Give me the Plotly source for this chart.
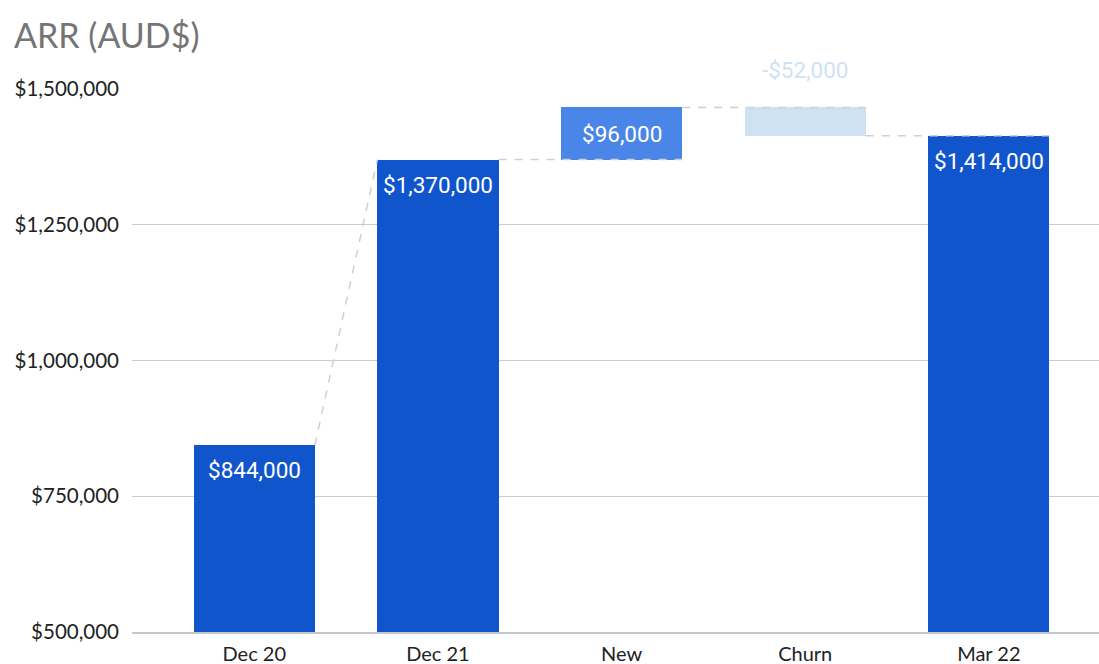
import plotly.graph_objects as go

categories = ["Dec 20", "Dec 21", "New", "Churn", "Mar 22"]
values = [844000, 1370000, 96000, -52000, 1414000]
measures = ["absolute", "absolute", "relative", "relative", "absolute"]
labels = ["$844,000", "$1,370,000", "$96,000", "-$52,000", "$1,414,000"]
colors = ["#1155cc", "#1155cc", "#4a86e8", "#cfe2f3", "#1155cc"]
label_colors = ["#ffffff", "#ffffff", "#ffffff", "#cfe2f3", "#ffffff"]
y_ticks = [500000, 750000, 1000000, 1250000, 1500000]

BAR_W = 0.66
AXIS_MIN = 500000

# compute bases/tops from data
bases, tops = [], []
running = 0
for v, m in zip(values, measures):
    if m == "absolute":
        base, top = AXIS_MIN, v
        running = v
    else:
        start = running
        running = running + v
        base, top = min(start, running), max(start, running)
    bases.append(base)
    tops.append(top)

xs = list(range(len(categories)))
fig = go.Figure()
fig.add_trace(go.Bar(
    x=xs, y=[t - b for t, b in zip(tops, bases)], base=bases,
    width=BAR_W, marker=dict(color=colors, line=dict(width=0)),
    hoverinfo="skip", showlegend=False,
))

# connectors
ends = []
running = 0
for v, m in zip(values, measures):
    running = v if m == "absolute" else running + v
    ends.append(running)
half = BAR_W / 2
seg_x, seg_y = [], []
for i in range(len(categories) - 1):
    if measures[i + 1] == "absolute" and ends[i] != values[i + 1] and i + 1 < len(categories) - 1:
        seg_x += [i + half, i + 1 - half, None]
        seg_y += [ends[i], values[i + 1], None]
    else:
        seg_x += [i + half, i + 1 + half, None]
        seg_y += [ends[i], ends[i], None]
fig.add_trace(go.Scatter(
    x=seg_x, y=seg_y, mode="lines",
    line=dict(color="#d0d0d0", width=1.5, dash="8px,8px"),
    hoverinfo="skip", showlegend=False, cliponaxis=False,
))

# labels
LBL_FONT = 22.5
for i, (lab, col) in enumerate(zip(labels, label_colors)):
    if measures[i] == "relative" and values[i] < 0:
        fig.add_annotation(x=i, y=tops[i], text=lab, showarrow=False,
                           yanchor="middle", yshift=37,
                           font=dict(family="Roboto", size=LBL_FONT, color=col))
    elif measures[i] == "relative":
        fig.add_annotation(x=i, y=(tops[i] + bases[i]) / 2, text=lab, showarrow=False,
                           yanchor="middle",
                           font=dict(family="Roboto", size=LBL_FONT, color=col))
    else:
        fig.add_annotation(x=i, y=tops[i], text=lab, showarrow=False,
                           yanchor="middle", yshift=-25,
                           font=dict(family="Roboto", size=LBL_FONT, color=col))

fig.update_layout(
    width=1099, height=664,
    margin=dict(l=132, r=0, t=89, b=32, autoexpand=False),
    paper_bgcolor="white", plot_bgcolor="white",
    title=dict(text="ARR (AUD$)", x=14 / 1099, xanchor="left",
               y=1 - 36 / 664, yanchor="middle", xref="container", yref="container",
               font=dict(family="Lato", size=34, color="#757575")),
    bargap=0,
    font=dict(family="Lato", size=20, color="#222222"),
)
fig.update_xaxes(
    range=[-0.666, 4.6], tickmode="array", tickvals=xs, ticktext=categories,
    showgrid=False, zeroline=False, showline=True, linecolor="#c8c8c8", linewidth=1.5,
    ticks="", ticklabelstandoff=3, automargin=False,
    tickfont=dict(family="Lato", size=20, color="#222222"),
)
fig.update_yaxes(
    range=[AXIS_MIN, 1500000], tickvals=y_ticks, tickformat="$,.0f",
    showgrid=True, gridcolor="#cccccc", gridwidth=1, zeroline=False,
    ticks="", ticklabelstandoff=12, automargin=False,
    tickfont=dict(family="Lato", size=20.5, color="#222222"),
)

fig.write_html("out.html")
